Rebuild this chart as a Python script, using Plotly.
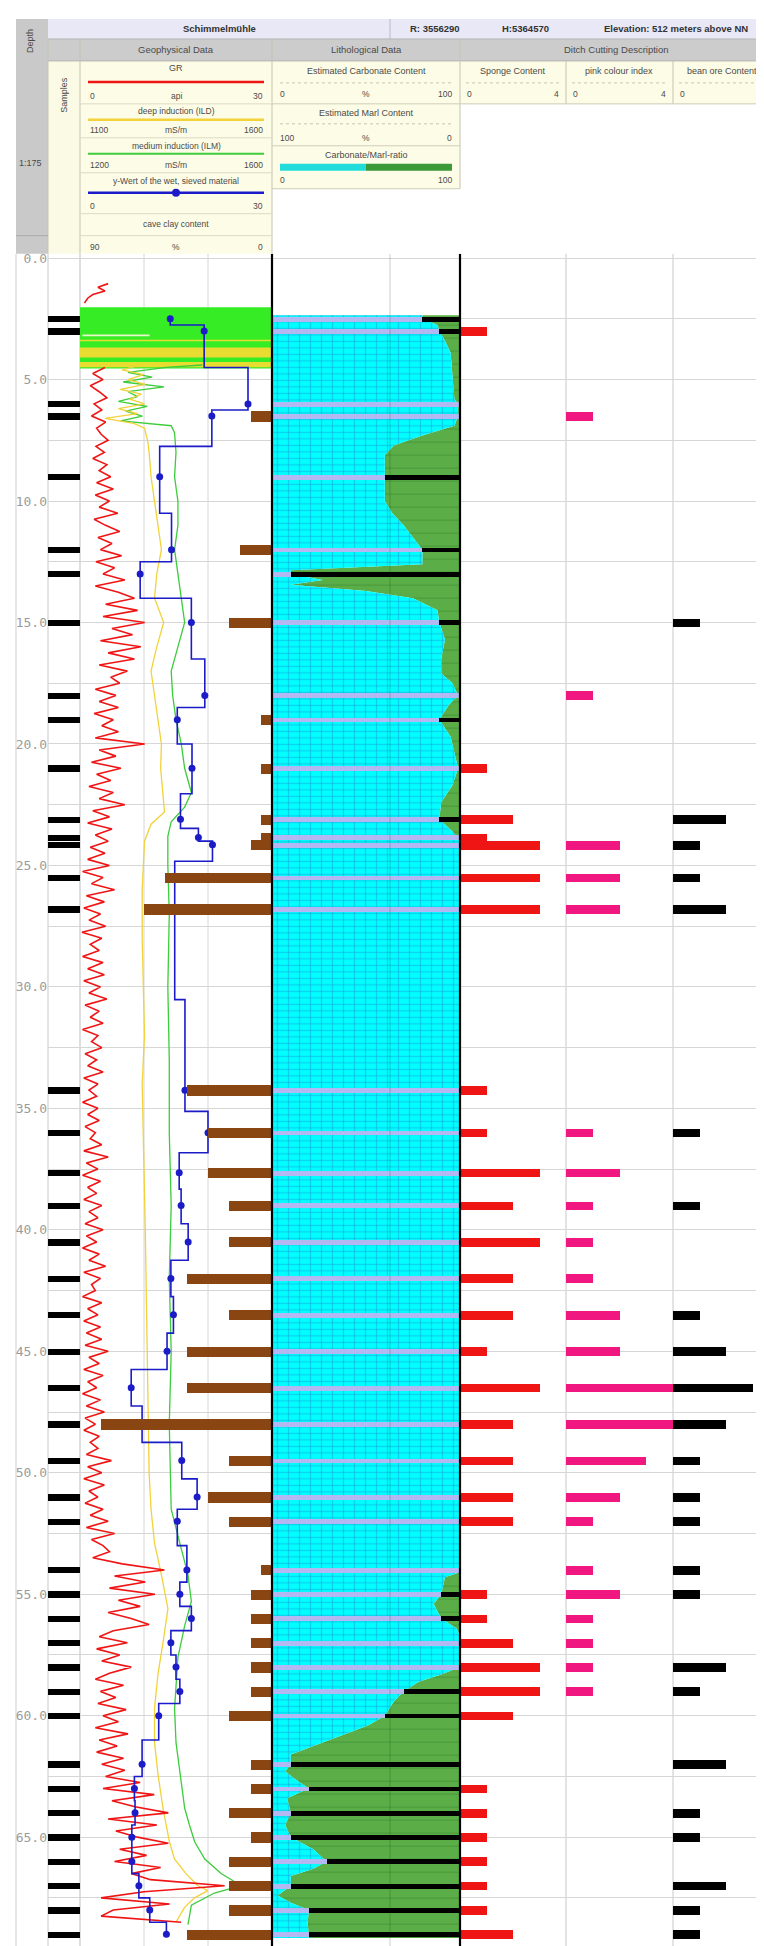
import numpy as np
import plotly.graph_objects as go

W, H = 764, 1946
TOP = 243  # top of log area in px

# ---------------- data ----------------
SAMPLE_DEPTH = [2.5, 3.0, 6.0, 6.5, 9.0, 12.0, 13.0, 15.0,
                18.0, 19.0, 21.0, 23.1, 23.85, 24.15, 25.5, 26.8,
                34.25, 36.0, 37.65, 39.0, 40.5, 42.0, 43.5, 45.0, 46.5, 48.0, 49.5, 51.0,
                52.0, 54.0, 55.0, 56.0, 57.0, 58.0, 59.0, 60.0,
                62.0, 63.0, 64.0, 65.0, 66.0, 67.0, 68.0, 69.0]
Y_WERT = [14.1, 19.4, 26.25, 20.6, 12.45, 14.3, 9.4, 17.4,
          19.5, 15.2, 17.5, 15.7, 18.5, 20.7, 14.8, 14.8,
          16.4, 20.0, 15.5, 15.8, 16.9, 14.2, 14.6, 13.6, 8.0, 9.7, 15.9, 18.3,
          15.2, 16.7, 15.6, 17.4, 14.2, 15.0, 15.6, 12.3,
          9.7, 8.5, 8.6, 8.1, 8.1, 9.2, 10.9, 13.5]
CAVE_CLAY = [0, 0, 0, 10, 0, 15, 0, 20,
             0, 5, 5, 5, 5, 10, 50, 60,
             40, 30, 30, 20, 20, 40, 20, 40, 40, 80, 20, 30,
             20, 5, 10, 10, 10, 10, 10, 20,
             10, 10, 20, 10, 20, 20, 20, 40]
SPONGE = [0, 1, 0, 0, 0, 0, 0, 0,
          0, 0, 1, 2, 1, 3, 3, 3,
          1, 1, 3, 2, 3, 2, 2, 1, 3, 2, 2, 2,
          2, 0, 1, 1, 2, 3, 3, 2,
          0, 1, 1, 1, 1, 1, 1, 2]
PINK = [0, 0, 0, 1, 0, 0, 0, 0,
        1, 0, 0, 0, 0, 2, 2, 2,
        0, 1, 2, 1, 1, 1, 2, 2, 4, 4, 3, 2,
        1, 1, 2, 1, 1, 1, 1, 0,
        0, 0, 0, 0, 0, 0, 0, 0]
BEAN = [0, 0, 0, 0, 0, 0, 0, 1,
        0, 0, 0, 2, 0, 1, 1, 2,
        0, 1, 0, 1, 0, 0, 1, 2, 3, 2, 1, 1,
        1, 1, 1, 0, 0, 2, 1, 0,
        2, 0, 1, 1, 0, 2, 1, 1]
CARB_SAMPLE = [80, 89, 100, 100, 60, 80, 10, 89,
               100, 89, 100, 89, 100, 100, 100, 100,
               100, 100, 100, 100, 100, 100, 100, 100, 100, 100, 100, 100,
               100, 100, 90, 90, 100, 100, 70, 60,
               10, 19.5, 10, 10, 29, 10, 19.6, 19.6]

CARB_CURVE_DEPTH = [2.35, 2.5, 2.75, 3.0, 3.4, 3.9, 4.85, 5.8, 6.0, 6.5, 6.9, 7.3, 7.7, 8.1, 9.0,
                    10.0, 10.5, 11.0, 11.6, 12.0, 12.6, 12.85, 13.0, 13.25, 13.45, 13.7, 14.0,
                    14.5, 15.0, 15.7, 16.5, 17.1, 17.5, 18.0, 18.4, 19.0, 19.7, 20.4, 21.0,
                    21.7, 22.4, 23.1, 23.6, 24.0, 54.1, 54.3, 55.0, 55.4, 55.7, 56.0, 56.4,
                    56.7, 58.0, 58.3, 58.6, 59.0, 59.4, 60.0, 60.4, 60.8, 61.2, 61.6, 62.0,
                    62.3, 62.6, 63.0, 63.4, 64.0, 64.5, 65.0, 65.5, 66.0, 66.3, 66.6, 67.0,
                    67.4, 67.7, 68.0, 68.5, 69.0, 69.15]
CARB_CURVE = [80, 80, 88, 89, 92, 95, 96, 97, 99, 99, 97, 80, 65, 60, 60,
              60, 64, 70, 76, 80, 80, 10, 10, 27, 10, 50, 75,
              88, 89, 92, 90, 90, 96, 99, 94, 89, 95, 97, 99,
              96, 90, 89, 96, 100, 100, 92, 90, 86, 88, 90, 98,
              100, 100, 90, 78, 70, 65, 60, 51, 37, 24, 10, 10,
              7, 12, 19.5, 8, 10, 7, 10, 22, 29, 22, 10, 10,
              3, 10, 19.6, 19, 19.6, 19.6]

GR_TOP_DEPTH = [1.05, 1.2, 1.35, 1.5, 1.65, 1.85]
GR_TOP = [4.4, 2.8, 3.9, 2.0, 1.2, 0.7]
GR_START, GR_STEP = 4.5, 0.25
GR = [3.9, 2.0, 3.6, 1.6, 3.0, 4.2, 2.2, 3.4, 1.8, 4.0, 2.6, 3.3, 4.4, 2.5, 3.8, 2.0, 4.2, 3.0, 4.8, 2.6,
      5.2, 2.4, 4.6, 3.0, 5.9, 2.2, 4.0, 6.2, 2.8, 5.0, 3.2, 6.5, 2.5, 5.4, 3.6, 7.0, 2.4, 6.0, 8.5, 4.0,
      9.0, 3.6, 10.1, 5.0, 8.2, 3.2, 9.5, 4.4, 8.5, 3.0, 7.4, 4.8, 6.2, 2.4, 5.6, 3.0, 6.0, 2.2, 5.2, 3.4,
      6.0, 2.4, 10.1, 3.0, 5.6, 1.8, 6.4, 2.6, 4.8, 1.4, 5.2, 3.0, 7.0, 2.0, 4.6, 1.2, 5.0, 2.4, 4.4, 1.6,
      3.9, 1.2, 4.6, 0.4, 3.6, 1.8, 5.4, 1.0, 3.8, 0.6, 3.2, 1.4, 4.0, 0.3, 3.4, 1.6, 3.0, 0.4, 3.6, 1.2,
      3.8, 0.6, 3.2, 1.4, 4.2, 0.8, 3.0, 1.6, 3.6, 0.4, 2.8, 1.8, 3.4, 0.8, 2.6, 1.2, 3.6, 0.6, 2.8, 1.4,
      2.6, 0.4, 2.8, 1.2, 3.0, 0.8, 2.4, 1.6, 3.4, 0.6, 4.4, 1.0, 2.8, 0.4, 3.2, 1.2, 2.6, 0.6, 3.4, 1.4,
      2.8, 0.8, 3.6, 1.0, 2.6, 0.4, 3.0, 1.4, 4.0, 0.6, 3.2, 1.8, 2.4, 0.4, 3.4, 1.2, 2.8, 0.6, 3.2, 1.0,
      3.4, 0.8, 4.4, 1.4, 3.0, 0.6, 3.6, 1.2, 2.6, 0.4, 3.2, 1.0, 3.8, 0.8, 2.4, 0.6, 3.0, 1.6, 2.8, 1.0,
      4.9, 1.2, 3.4, 0.6, 3.8, 1.4, 2.8, 0.8, 3.6, 1.6, 4.4, 1.0, 5.4, 1.8, 3.6, 4.6, 2.0, 6.6, 13.2, 5.4,
      10.2, 4.6, 11.7, 6.0, 9.4, 4.4, 8.0, 10.8, 5.2, 3.0, 7.4, 2.6, 6.2, 3.4, 8.0, 4.6, 2.4, 6.8, 3.2, 5.6,
      2.8, 7.2, 3.6, 6.0, 2.4, 7.5, 3.0, 5.8, 2.6, 6.8, 3.4, 7.0, 4.0, 9.4, 3.6, 11.6, 5.0, 8.6, 13.8, 4.4,
      12.0, 5.6, 9.0, 13.8, 6.2, 10.4, 5.4, 12.6, 8.0, 11.0, 22.6, 10.0, 3.3, 14.0, 5.2, 3.3, 15.8]

ILD_DEPTH = [4.4, 4.6, 4.8, 5.0, 5.2, 5.4, 5.6, 5.8, 6.0, 6.2, 6.4, 6.6, 6.8, 7.0,
             7.5, 8, 9, 10, 11, 12, 13, 14, 15, 16, 17, 18, 19, 20, 21, 22,
             22.8, 23.3, 24, 26, 28, 30, 32, 34, 36, 38, 40, 42, 44, 46, 48, 50,
             51.5, 52.9, 54.2, 55.6, 57, 58.3, 59.7, 61.1, 62.4, 63.8, 65.2, 65.9, 66.5, 67, 67.2,
             67.5, 67.9, 68.5]
ILD = [1255, 1210, 1265, 1225, 1270, 1205, 1260, 1230, 1268, 1200, 1250, 1165, 1240, 1268,
       1276, 1280, 1285, 1294, 1303, 1312, 1300, 1294, 1318, 1300, 1285, 1294, 1303, 1312, 1310, 1316,
       1320, 1285, 1268, 1262, 1262, 1265, 1268, 1262, 1265, 1268, 1270, 1272, 1274, 1276, 1278, 1280,
       1285, 1294, 1312, 1329, 1316, 1303, 1294, 1294, 1303, 1316, 1333, 1346, 1376, 1407, 1433,
       1398, 1372, 1350]

ILM_DEPTH = [4.4, 4.5, 4.7, 4.9, 5.1, 5.3, 5.5, 5.7, 5.9, 6.1, 6.3, 6.5, 6.7, 6.9,
             7.2, 8, 9, 10, 11, 12, 13, 14, 15, 16, 17, 18, 19, 20, 21, 22,
             22.6, 23.2, 23.8, 25, 27, 30, 33, 36, 39, 42, 45, 48,
             51.5, 52.9, 54.2, 55.3, 56.3, 57.6, 59.7, 61.1, 62.4, 63.8, 64.5, 65.2, 65.9, 66.5,
             67.0, 67.3, 67.8, 68.6]
ILM = [1455, 1380, 1300, 1350, 1290, 1375, 1300, 1320, 1280, 1340, 1295, 1330, 1285, 1390,
       1397, 1400, 1397, 1404, 1404, 1397, 1404, 1411, 1418, 1404, 1390, 1393, 1400, 1411, 1418, 1432,
       1418, 1390, 1383, 1383, 1386, 1383, 1386, 1386, 1390, 1386, 1390, 1386,
       1390, 1408, 1425, 1432, 1418, 1404, 1397, 1400, 1408, 1418, 1428, 1439, 1460, 1494,
       1536, 1480, 1432, 1425]

# saturated induction interval (curves off-scale) near the top
BLOCK_DEPTH = [2.02, 4.54]
BLOCK_YELLOW = [[3.36, 3.42], [3.68, 4.09], [4.28, 4.49]]
BLOCK_PALE = [[3.14, 3.22]]

DEPTH_TICKS = np.arange(0, 70, 2.5)
DEPTH_RANGE = [69.81, -0.185]

# ---------------- colours ----------------
C_RED = "#f01515"
C_YEL = "#f2d23a"
C_GRN = "#3ccc3c"
C_BLUE = "#1b1bc8"
C_BROWN = "#8a4612"
C_PINK = "#f01880"
C_LAV = "#b3b8f2"
C_CYAN = "#00ffff"
C_MARL = "#5bae47"

fig = go.Figure()
NOHOV = dict(hoverinfo="skip", showlegend=False)

# samples track
fig.add_trace(go.Bar(orientation="h", y=SAMPLE_DEPTH, x=[1] * len(SAMPLE_DEPTH), width=0.26,
                     marker=dict(color="black", line=dict(width=0)), xaxis="x", yaxis="y", **NOHOV))

# saturated block (ILM axis units span the whole track)
b0, b1 = BLOCK_DEPTH
fig.add_trace(go.Scatter(x=[1200, 1600, 1600, 1200, 1200], y=[b0, b0, b1, b1, b0], mode="lines",
                         fill="toself", fillcolor="#35ec25", line=dict(width=0), xaxis="x2", yaxis="y", **NOHOV))
for (a, b) in BLOCK_YELLOW:
    fig.add_trace(go.Scatter(x=[1200, 1600, 1600, 1200, 1200], y=[a, a, b, b, a], mode="lines",
                             fill="toself", fillcolor="#e8dc30", line=dict(width=0), xaxis="x2", yaxis="y", **NOHOV))
for (a, b) in BLOCK_PALE:
    fig.add_trace(go.Scatter(x=[1205, 1345, 1345, 1205, 1205], y=[a, a, b, b, a], mode="lines",
                             fill="toself", fillcolor="#e9f7c8", line=dict(width=0), xaxis="x2", yaxis="y", **NOHOV))

# ILM
fig.add_trace(go.Scatter(x=ILM, y=ILM_DEPTH, mode="lines", line=dict(color=C_GRN, width=1.3),
                         xaxis="x2", yaxis="y", **NOHOV))
# ILD
fig.add_trace(go.Scatter(x=ILD, y=ILD_DEPTH, mode="lines", line=dict(color=C_YEL, width=1.3),
                         xaxis="x3", yaxis="y", **NOHOV))
# GR
gr_depth = list(GR_TOP_DEPTH) + [None] + list(GR_START + GR_STEP * np.arange(len(GR)))
gr_vals = list(GR_TOP) + [None] + list(GR)
fig.add_trace(go.Scatter(x=gr_vals, y=gr_depth, mode="lines", line=dict(color=C_RED, width=1.6),
                         connectgaps=False, xaxis="x4", yaxis="y", **NOHOV))
# y-Wert
fig.add_trace(go.Scatter(x=Y_WERT, y=SAMPLE_DEPTH, mode="lines+markers", line=dict(color=C_BLUE, width=1.6, shape="vhv"),
                         marker=dict(color=C_BLUE, size=7), xaxis="x5", yaxis="y", **NOHOV))
# cave clay
fig.add_trace(go.Bar(orientation="h", y=SAMPLE_DEPTH, x=CAVE_CLAY, width=0.42,
                     marker=dict(color=C_BROWN, line=dict(width=0)), xaxis="x6", yaxis="y", **NOHOV))

# lithology fills
d0, d1 = CARB_CURVE_DEPTH[0], CARB_CURVE_DEPTH[-1]
carb_x = [0] + CARB_CURVE + [0]
marl_x = [100] + CARB_CURVE + [100]
poly_y = [d0] + CARB_CURVE_DEPTH + [d1]
fig.add_trace(go.Scatter(x=marl_x, y=poly_y, mode="lines", fill="toself", fillcolor=C_MARL,
                         fillpattern=dict(shape="-", size=13, solidity=0.1, fgcolor="#3a8331", bgcolor=C_MARL),
                         line=dict(width=0), xaxis="x7", yaxis="y", **NOHOV))
fig.add_trace(go.Scatter(x=carb_x, y=poly_y, mode="lines", fill="toself", fillcolor=C_CYAN,
                         fillpattern=dict(shape="-", size=6.5, solidity=0.2, fgcolor="#16a6dc", bgcolor=C_CYAN),
                         line=dict(width=0), xaxis="x7", yaxis="y", **NOHOV))
fig.add_trace(go.Scatter(x=carb_x, y=poly_y, mode="lines", fill="toself", fillcolor="rgba(0,0,0,0)",
                         fillpattern=dict(shape="|", size=11, solidity=0.12, fgcolor="#16a6dc", bgcolor="rgba(0,0,0,0)"),
                         line=dict(width=0), xaxis="x7", yaxis="y", **NOHOV))
# per-sample carbonate / marl bars (overlay axis so they sit above the fills)
fig.add_trace(go.Bar(orientation="h", y=SAMPLE_DEPTH, x=CARB_SAMPLE, width=0.2,
                     marker=dict(color=C_LAV, line=dict(width=0)), xaxis="x11", yaxis="y", **NOHOV))
fig.add_trace(go.Bar(orientation="h", y=SAMPLE_DEPTH, x=[100 - c for c in CARB_SAMPLE], base=CARB_SAMPLE, width=0.2,
                     marker=dict(color="black", line=dict(width=0)), xaxis="x11", yaxis="y", **NOHOV))

# ditch cuttings
for vals, col, ax in [(SPONGE, C_RED, "x8"), (PINK, C_PINK, "x9"), (BEAN, "black", "x10")]:
    fig.add_trace(go.Bar(orientation="h", y=SAMPLE_DEPTH, x=vals, width=0.36,
                         marker=dict(color=col, line=dict(width=0)), xaxis=ax, yaxis="y", **NOHOV))


def dom(a, b):
    return [a / W, b / W]


hid = dict(visible=False, fixedrange=True, anchor="y")
layout_axes = dict(
    xaxis=dict(domain=dom(40, 72), range=[0, 1], **hid),
    xaxis2=dict(domain=dom(72, 264), range=[1200, 1600], **hid),
    xaxis3=dict(domain=dom(72, 264), range=[1100, 1600], overlaying="x2", **hid),
    xaxis4=dict(domain=dom(72, 264), range=[0, 30], overlaying="x2", **hid),
    xaxis5=dict(domain=dom(72, 264), range=[0, 30], overlaying="x2", **hid),
    xaxis6=dict(domain=dom(72, 264), range=[90, 0], overlaying="x2", **hid),
    xaxis7=dict(domain=dom(264, 452), range=[0, 100], **hid),
    xaxis8=dict(domain=dom(452, 558), range=[0, 4], **hid),
    xaxis9=dict(domain=dom(558, 665), range=[0, 4], **hid),
    xaxis10=dict(domain=dom(665, 764), range=[0, 4 * (764 - 665) / (558 - 452)], **hid),
    xaxis11=dict(domain=dom(264, 452), range=[0, 100], overlaying="x7", **hid),
)

yaxis = dict(domain=[0, 1 - TOP / H], range=DEPTH_RANGE, anchor="x", side="left",
             tickvals=list(DEPTH_TICKS),
             ticktext=[f"{d:.1f}" if abs(d % 5) < 1e-9 else "" for d in DEPTH_TICKS],
             showgrid=True, gridcolor="#d6d6d6", gridwidth=1, zeroline=False, showline=False,
             ticks="", tickfont=dict(family="DejaVu Sans Mono", size=13, color="#9c9c9c"),
             fixedrange=True)


def X(p):
    return p / W


def Y(p):
    return 1 - p / H


shapes = []


def vline(x, y0, y1, color, width=1, layer="below", dash=None):
    shapes.append(dict(type="line", xref="paper", yref="paper", x0=X(x), x1=X(x), y0=Y(y0), y1=Y(y1),
                       line=dict(color=color, width=width, dash=dash), layer=layer))


def hline(y, x0, x1, color, width=1, layer="above", dash=None):
    shapes.append(dict(type="line", xref="paper", yref="paper", x0=X(x0), x1=X(x1), y0=Y(y), y1=Y(y),
                       line=dict(color=color, width=width, dash=dash), layer=layer))


def rect(x0, y0, x1, y1, fill, line=None, layer="above"):
    shapes.append(dict(type="rect", xref="paper", yref="paper", x0=X(x0), x1=X(x1), y0=Y(y1), y1=Y(y0),
                       fillcolor=fill, line=dict(width=0) if line is None else dict(color=line, width=1),
                       layer=layer))


# log-area vertical lines
vline(8, TOP, H, "#cfcfcf")
vline(40, TOP, H, "#c8c8c8")
vline(72, TOP, H, "#bdbdbd")
vline(136, TOP, H, "#d6d6d6")
vline(200, TOP, H, "#d6d6d6")
vline(558, TOP, H, "#c8c8c8")
vline(665, TOP, H, "#c8c8c8")
vline(382, TOP, H, "rgba(0,50,0,0.22)", layer="above")
vline(264, TOP, H, "black", 2.2, layer="above")
vline(452, TOP, H, "black", 2.2, layer="above")

# ---------------- header ----------------
rect(0, 0, W, TOP, "white")
rect(8, 8, 40, TOP, "#c9c9c9")
rect(40, 8, W, 28, "#e8e8f6")
rect(40, 28, W, 50, "#cccccc")
rect(40, 50, 72, TOP, "#fbfae4")
rect(72, 50, 264, TOP, "#fdfce6")
rect(264, 50, 452, 178, "#fdfce6")
rect(452, 50, W, 93, "#fdfce6")
vline(382, 8, 28, "#b9b9c9", layer="above")
hline(28, 40, W, "#b5b5b5")
hline(50, 40, W, "#b5b5b5")
for x in (40, 72, 264, 452):
    vline(x, 28, TOP if x < 452 else 178, "#c4c4b4", layer="above")
vline(558, 50, 93, "#c4c4b4", layer="above")
vline(665, 50, 93, "#c4c4b4", layer="above")
for y in (93, 127, 162, 203, 225):
    hline(y, 72, 264, "#dcdac4")
hline(225, 8, 40, "#a9a9a9")
hline(93, 264, W, "#cfcdb8")
hline(135, 264, 452, "#cfcdb8")
hline(178, 264, 452, "#cfcdb8")
for (a, b) in ((272, 444), (458, 552), (564, 659), (671, 760)):
    hline(72, a, b, "#c9c7b0", dash="dot")
hline(113, 272, 444, "#c9c7b0", dash="dot")
# legend line samples
hline(71, 80, 256, C_RED, 2.5)
hline(109, 80, 256, C_YEL, 2.5)
hline(143, 80, 256, C_GRN, 2)
hline(182, 80, 256, C_BLUE, 2.5)
shapes.append(dict(type="circle", xref="paper", yref="paper", x0=X(164), x1=X(172), y0=Y(186), y1=Y(178),
                   fillcolor=C_BLUE, line=dict(width=0), layer="above"))
rect(272, 153, 358, 160, "#22dcdc")
rect(358, 153, 444, 160, "#3a9a38")

annotations = []


def txt(x, y, s, size=9, bold=False, anchor="center", angle=0, color="#4a4a4a"):
    annotations.append(dict(x=X(x), y=Y(y), xref="paper", yref="paper", text=f"<b>{s}</b>" if bold else s,
                            showarrow=False, xanchor=anchor, yanchor="middle", textangle=angle,
                            font=dict(family="Liberation Sans, Arial", size=size, color=color)))


txt(22, 30, "Depth", 9, angle=-90)
txt(22, 152, "1:175", 9)
txt(211, 18, "Schimmelmühle", 9.5, bold=True, color="#333")
txt(427, 18, "R: 3556290", 9.5, bold=True, color="#333")
txt(517, 18, "H:5364570", 9.5, bold=True, color="#333")
txt(668, 18, "Elevation: 512 meters above NN", 9.5, bold=True, color="#333")
txt(168, 39, "Geophysical Data", 9.5)
txt(358, 39, "Lithological Data", 9.5)
txt(608, 39, "Ditch Cutting Description", 9.5)
txt(56, 84, "Samples", 9, angle=-90)

txt(168, 57, "GR", 9)
txt(80, 85, "0", 8.5, anchor="left"); txt(168, 85, "api", 8.5); txt(257, 85, "30", 8.5, anchor="right")
txt(168, 100, "deep induction (ILD)", 8.5)
txt(80, 119, "1100", 8.5, anchor="left"); txt(168, 119, "mS/m", 8.5); txt(257, 119, "1600", 8.5, anchor="right")
txt(168, 135, "medium induction (ILM)", 8.5)
txt(80, 154, "1200", 8.5, anchor="left"); txt(168, 154, "mS/m", 8.5); txt(257, 154, "1600", 8.5, anchor="right")
txt(168, 170, "y-Wert of the wet, sieved material", 8.5)
txt(80, 195, "0", 8.5, anchor="left"); txt(257, 195, "30", 8.5, anchor="right")
txt(168, 213, "cave clay content", 8.5)
txt(80, 236, "90", 8.5, anchor="left"); txt(168, 236, "%", 8.5); txt(257, 236, "0", 8.5, anchor="right")

txt(358, 60, "Estimated Carbonate Content", 9)
txt(270, 83, "0", 8.5, anchor="left"); txt(358, 83, "%", 8.5); txt(446, 83, "100", 8.5, anchor="right")
txt(358, 102, "Estimated Marl Content", 9)
txt(270, 127, "100", 8.5, anchor="left"); txt(358, 127, "%", 8.5); txt(446, 127, "0", 8.5, anchor="right")
txt(358, 144, "Carbonate/Marl-ratio", 9)
txt(270, 169, "0", 8.5, anchor="left"); txt(446, 169, "100", 8.5, anchor="right")

txt(505, 60, "Sponge Content", 9)
txt(457, 83, "0", 8.5, anchor="left"); txt(553, 83, "4", 8.5, anchor="right")
txt(611, 60, "pink colour index", 9)
txt(563, 83, "0", 8.5, anchor="left"); txt(660, 83, "4", 8.5, anchor="right")
txt(714, 60, "bean ore Content", 9)
txt(670, 83, "0", 8.5, anchor="left"); txt(760, 83, "4", 8.5, anchor="right")

fig.update_layout(
    width=W, height=H, autosize=False,
    margin=dict(l=0, r=0, t=0, b=0),
    paper_bgcolor="white", plot_bgcolor="white",
    barmode="overlay", bargap=0,
    showlegend=False,
    yaxis=yaxis,
    shapes=shapes,
    annotations=annotations,
    **layout_axes,
)

fig.write_html("out.html")
